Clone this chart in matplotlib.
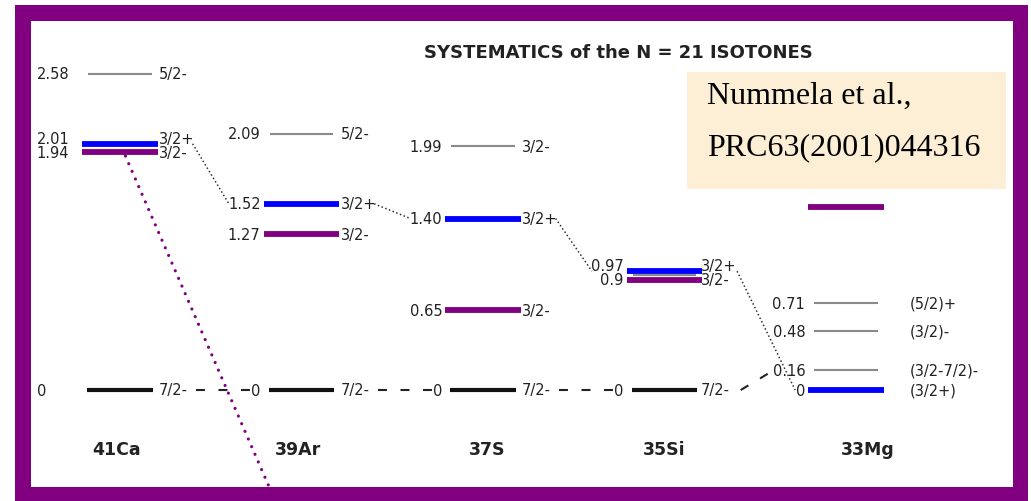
import matplotlib.pyplot as plt
from matplotlib.patches import Rectangle

nuclei = ['41Ca', '39Ar', '37S', '35Si', '33Mg']

# levels of each isotone: energy (MeV), energy label, spin label, family
# family: 'gs' = 7/2- ground state, 'plus' = 3/2+, 'minus' = 3/2-, 'other'
ca41_E = [0.0, 1.94, 2.01, 2.58]
ca41_lab = ['0', '1.94', '2.01', '2.58']
ca41_J = ['7/2-', '3/2-', '3/2+', '5/2-']
ca41_fam = ['gs', 'minus', 'plus', 'other']

ar39_E = [0.0, 1.27, 1.52, 2.09]
ar39_lab = ['0', '1.27', '1.52', '2.09']
ar39_J = ['7/2-', '3/2-', '3/2+', '5/2-']
ar39_fam = ['gs', 'minus', 'plus', 'other']

s37_E = [0.0, 0.65, 1.40, 1.99]
s37_lab = ['0', '0.65', '1.40', '1.99']
s37_J = ['7/2-', '3/2-', '3/2+', '3/2-']
s37_fam = ['gs', 'minus', 'plus', 'other']

si35_E = [0.0, 0.90, 0.935, 0.97]
si35_lab = ['0', '0.9', '', '0.97']
si35_J = ['7/2-', '3/2-', '', '3/2+']
si35_fam = ['gs', 'minus', 'other', 'plus']

mg33_E = [0.0, 0.16, 0.48, 0.71, 1.49]
mg33_lab = ['0', '0.16', '0.48', '0.71', '']
mg33_J = ['(3/2+)', '(3/2-7/2)-', '(3/2)-', '(5/2)+', '']
mg33_fam = ['plus', 'other', 'other', 'other', 'minus']

# states followed across the chain
chain_72 = [0.0, 0.0, 0.0, 0.0, 0.16]        # 7/2- (dashed)
chain_32p = [2.01, 1.52, 1.40, 0.97, 0.0]    # 3/2+ (dotted)
drop_slope = -3.45                           # 3/2- guide from 41Ca (MeV per isotone)

title = 'SYSTEMATICS of the N = 21 ISOTONES'
ref_lines = ['Nummela et al.,', 'PRC63(2001)044316']

levels = [
    (ca41_E, ca41_lab, ca41_J, ca41_fam),
    (ar39_E, ar39_lab, ar39_J, ar39_fam),
    (s37_E, s37_lab, s37_J, s37_fam),
    (si35_E, si35_lab, si35_J, si35_fam),
    (mg33_E, mg33_lab, mg33_J, mg33_fam),
]

# ---- layout (pixels) ----
W, H = 1031, 502
X0, DX = 120.0, 181.5     # pixel x of first isotone, spacing
Y0, DY = 391.0, 122.5     # pixel y of 0 MeV, pixels per MeV
PURPLE = '#800080'
BLUE = '#0000ff'
TXT = '#222222'

style = {
    'gs': dict(color='#111111', lw=3.0, hw=0.18),
    'plus': dict(color=BLUE, lw=4.2, hw=0.207),
    'minus': dict(color=PURPLE, lw=4.2, hw=0.207),
    'other': dict(color='#8a8a8a', lw=1.5, hw=0.175),
}
spin_gap = [0.215, 0.215, 0.215, 0.2, 0.35]
name_shift = [-0.02, -0.02, 0.02, 0.0, 0.12]

fig = plt.figure(figsize=(W / 100, H / 100), dpi=100)
fig.patch.set_facecolor('white')
ax = fig.add_axes([0, 0, 1, 1])
ax.set_xlim(-X0 / DX, (W - X0) / DX)
ax.set_ylim(-(H - Y0) / DY, Y0 / DY)
ax.axis('off')


def px_rect(x0, y0, x1, y1, **kw):
    fig.add_artist(Rectangle((x0 / W, 1 - y1 / H), (x1 - x0) / W, (y1 - y0) / H,
                             transform=fig.transFigure, lw=0, **kw))


def spread(es, labs, gap=0.115):
    ys = list(es)
    last = None
    for k in sorted(range(len(es)), key=lambda k: es[k]):
        if not labs[k]:
            continue
        if last is not None and ys[k] - last < gap:
            ys[k] = last + gap
        last = ys[k]
    return ys


def link_end(lab):
    return -0.24 - 0.04 * len(lab)


# frame and reference box
px_rect(15, 6, 31, 502, color=PURPLE)
px_rect(1013, 6, 1028, 502, color=PURPLE)
px_rect(15, 6, 1028, 22, color=PURPLE)
px_rect(15, 488, 1028, 502, color=PURPLE)
px_rect(687, 73, 1006, 190, color='#fcefd5')

fig.text(618 / W, 1 - 53 / H, title, ha='center', va='center',
         fontsize=13, fontweight='bold', color=TXT)
fig.text(707 / W, 1 - 104 / H, ref_lines[0], family='Liberation Serif',
         fontsize=23, va='baseline', color='black')
fig.text(707 / W, 1 - 155 / H, ref_lines[1], family='Liberation Serif',
         fontsize=23, va='baseline', color='black')

# level lines and labels
for i, (E, lab, J, fam) in enumerate(levels):
    ye = spread(E, lab)
    yj = spread(E, J)
    for k, e in enumerate(E):
        s = style[fam[k]]
        ax.plot([i - s['hw'], i + s['hw']], [e, e], color=s['color'], lw=s['lw'],
                solid_capstyle='butt', zorder=3)
        if lab[k]:
            if i == 0:
                ax.text(i - 0.46, ye[k], lab[k], ha='left', va='center',
                        fontsize=10.5, color=TXT)
            else:
                ax.text(i - 0.225, ye[k], lab[k], ha='right', va='center',
                        fontsize=10.5, color=TXT)
        if J[k]:
            ax.text(i + spin_gap[i], yj[k], J[k], ha='left', va='center',
                    fontsize=10.5, color=TXT)
    ax.text(i + name_shift[i], -0.48, nuclei[i], ha='center', va='center',
            fontsize=12.5, fontweight='bold', color=TXT)

# connecting lines between isotones
for i in range(len(nuclei) - 1):
    labs_next, E_next = levels[i + 1][1], levels[i + 1][0]
    k72 = E_next.index(chain_72[i + 1])
    ax.plot([i + 0.42, i + 1 + link_end(labs_next[k72])],
            [chain_72[i], chain_72[i + 1]], color='#222222', lw=1.5,
            dashes=(4.3, 6.5), zorder=2)
    kp = E_next.index(chain_32p[i + 1])
    ax.plot([i + 0.40, i + 1 + link_end(labs_next[kp])],
            [chain_32p[i], chain_32p[i + 1]], color='#333333', lw=1.1,
            dashes=(1, 1.6), zorder=2)

# falling 3/2- guide starting at the 41Ca 3/2- level
e_start = ca41_E[ca41_J.index('3/2-')]
y_end = (Y0 - 486) / DY
x_start = 0.03
x_end = x_start + (y_end - e_start) / drop_slope
ax.plot([x_start, x_end], [e_start - 0.03, y_end], color=PURPLE, lw=2.3,
        dashes=(0.01, 2.6), dash_capstyle='round', zorder=2)

fig.savefig('out.png', dpi=100)
